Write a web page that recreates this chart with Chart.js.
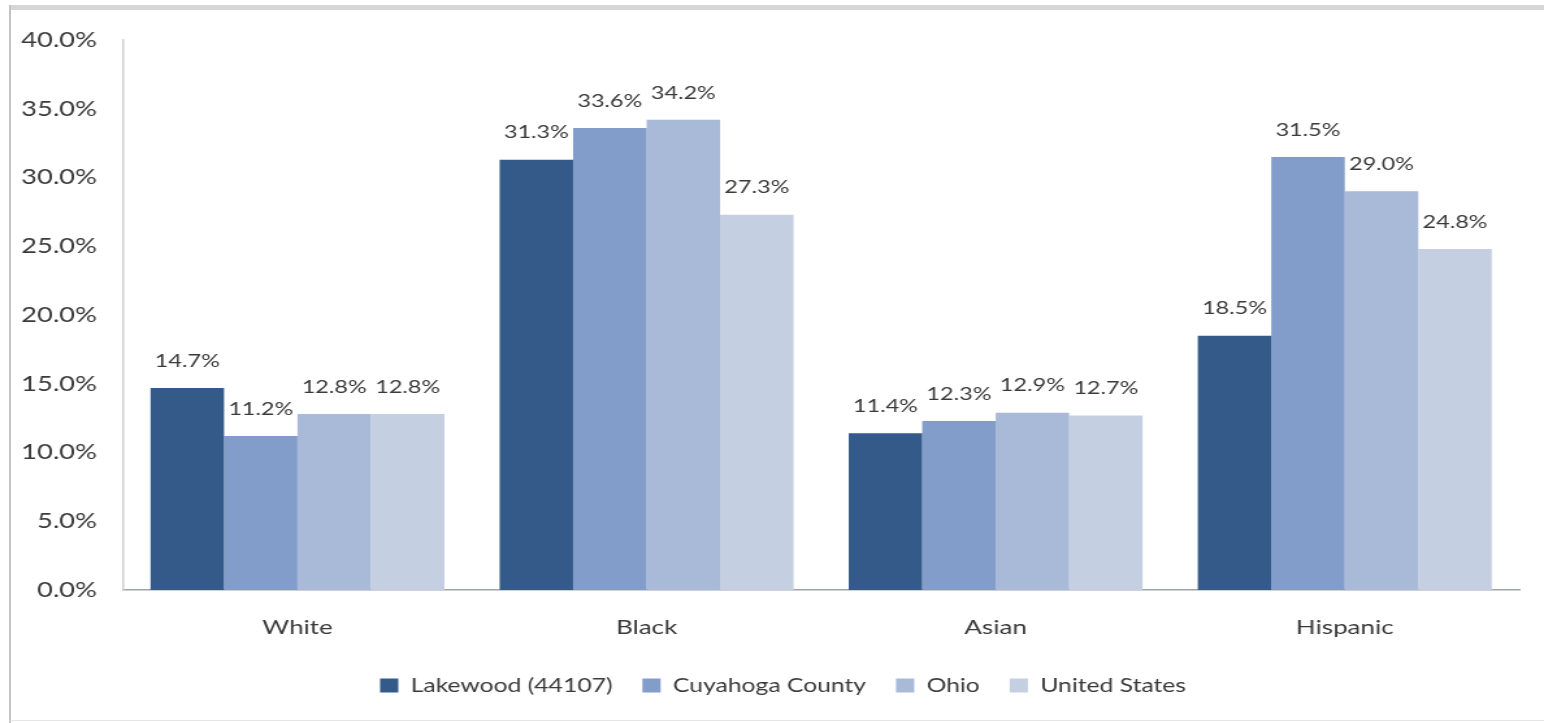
<!DOCTYPE html>
<html>
<head>
<meta charset="utf-8">
<script src="https://cdn.jsdelivr.net/npm/chart.js@4.4.1/dist/chart.umd.min.js"></script>
<style>
  html, body { margin: 0; padding: 0; background: #fff; }
  #wrap { position: relative; width: 1544px; height: 723px; overflow: hidden; }
  #topband { position: absolute; left: 10px; top: 5px; width: 1534px; height: 5px; background: #d6d6d6; }
  #leftline { position: absolute; left: 9px; top: 5px; width: 2px; height: 718px; background: #c4c4c4; }
  #botline { position: absolute; left: 10px; top: 720px; width: 1534px; height: 1px; background: #e4e4e4; }
  canvas { position: absolute; left: 0; top: 0; }
</style>
</head>
<body>
<div id="wrap">
  <div id="topband"></div>
  <div id="leftline"></div>
  <div id="botline"></div>
  <canvas id="c" width="1188" height="723" style="width:1544px;height:723px;"></canvas>
</div>
<script>
const categories = ["White", "Black", "Asian", "Hispanic"];
const seriesNames = ["Lakewood (44107)", "Cuyahoga County", "Ohio", "United States"];
const lakewood = [14.7, 31.3, 11.4, 18.5];
const cuyahoga = [11.2, 33.6, 12.3, 31.5];
const ohio = [12.8, 34.2, 12.9, 29.0];
const unitedStates = [12.8, 27.3, 12.7, 24.8];
const yTicks = [0, 5, 10, 15, 20, 25, 30, 35, 40];

const colors = ["#335a88", "#829dca", "#a9b9d8", "#c5cfe2"];
const FONT = "Lato, 'Open Sans', sans-serif";
const TEXT = "#3a3a3a";

const valueLabels = {
  id: "valueLabels",
  afterDatasetsDraw(chart) {
    const ctx = chart.ctx;
    ctx.save();
    ctx.font = "18px " + FONT;
    ctx.fillStyle = TEXT;
    ctx.textAlign = "center";
    ctx.textBaseline = "bottom";
    chart.data.datasets.forEach((ds, i) => {
      const meta = chart.getDatasetMeta(i);
      meta.data.forEach((bar, j) => {
        ctx.fillText(ds.data[j].toFixed(1) + "%", bar.x, bar.y - 18);
      });
    });
    ctx.restore();
  }
};

const legendShift = {
  id: "legendShift",
  afterLayout(chart) {
    const lg = chart.legend;
    if (lg) { lg.left += 18; lg.right += 18; }
  }
};

new Chart(document.getElementById("c"), {
  type: "bar",
  data: {
    labels: categories,
    datasets: [lakewood, cuyahoga, ohio, unitedStates].map((d, i) => ({
      label: seriesNames[i],
      data: d,
      backgroundColor: colors[i],
      borderWidth: 0,
      categoryPercentage: 0.842,
      barPercentage: 1.0
    }))
  },
  options: {
    responsive: false,
    animation: false,
    devicePixelRatio: 1,
    layout: { padding: { left: 0, right: 19, top: 40, bottom: 18 } },
    plugins: {
      tooltip: { enabled: false },
      legend: {
        position: "bottom",
        labels: {
          boxWidth: 14, boxHeight: 14,
          padding: 23,
          color: TEXT,
          font: { family: FONT, size: 19 }
        }
      }
    },
    scales: {
      x: {
        grid: { display: false, drawTicks: false },
        border: { display: true, color: "#a0a4aa", width: 1.5 },
        ticks: { color: TEXT, font: { family: FONT, size: 20 }, padding: 26 },
        afterFit(s) { s.height = 63; }
      },
      y: {
        min: 0, max: 40,
        grid: { display: false, drawTicks: false },
        border: { display: true, color: "#d0d0d0", width: 1.5 },
        afterBuildTicks(s) { s.ticks = yTicks.map(v => ({ value: v })); },
        ticks: {
          color: TEXT,
          font: { family: FONT, size: 21 },
          padding: 20,
          callback: v => Number(v).toFixed(1) + "%"
        },
        afterFit(s) { s.width = 94.6; }
      }
    }
  },
  plugins: [valueLabels, legendShift]
});
</script>
</body>
</html>
